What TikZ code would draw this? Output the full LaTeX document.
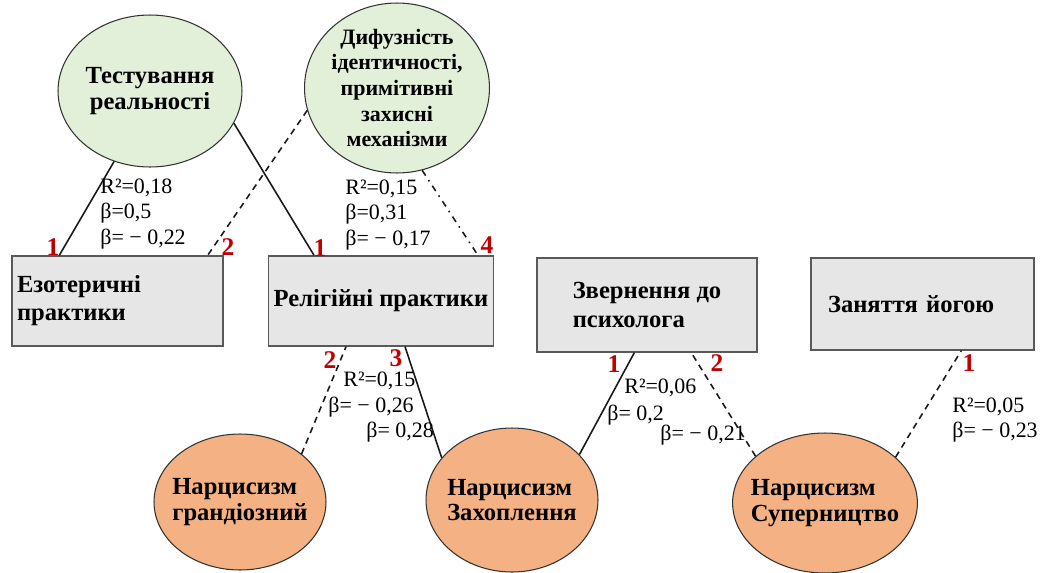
\documentclass[tikz,border=0pt]{standalone}
\usepackage{fontspec}
\setmainfont{Liberation Serif}
\usetikzlibrary{shapes.geometric}

\definecolor{ovalgreen}{RGB}{226,239,217}
\definecolor{ovalorange}{RGB}{244,177,131}
\definecolor{boxgray}{RGB}{231,230,230}
\definecolor{numred}{RGB}{192,0,0}

\begin{document}
\begin{tikzpicture}[x=0.02cm, y=-0.02cm,
    oval/.style={ellipse, draw=black!80, line width=0.6pt, inner sep=-5pt,
        font=\fontsize{14}{14.5}\selectfont\bfseries},
    factor/.style={oval, fill=ovalgreen, align=center},
    narc/.style={oval, fill=ovalorange, align=left},
    practice/.style={rectangle, draw=black!65, line width=0.8pt, fill=boxgray,
        minimum height=1.8cm, inner sep=0.1cm, align=left,
        font=\fontsize{14}{16}\selectfont\bfseries},
    num/.style={text=numred, inner sep=0pt, font=\fontsize{14.5}{14.5}\selectfont\bfseries},
    coef/.style={anchor=west, align=left, inner sep=0pt, font=\fontsize{12.5}{14.7}\selectfont},
    link/.style={line width=0.9pt, draw=black!90},
    neglink/.style={link, dash pattern=on 3.6pt off 2.8pt},
    mixlink/.style={link, dash pattern=on 3.6pt off 3pt on 0.9pt off 3pt},
  ]
  \useasboundingbox (0,0) rectangle (1042,572);

  % factors
  \node[factor, minimum width=3.68cm, minimum height=3.04cm] (tr) at (150,91) {Тестування\\реальності};
  \node[factor, minimum width=3.7cm, minimum height=3.4cm, inner sep=-8pt,
        font=\fontsize{12.5}{14.6}\selectfont\bfseries] (dif) at (397,88)
    {Дифузність\\ідентичності,\\примітивні\\захисні\\механізми};

  % practices
  \node[practice, minimum width=4.22cm, text width=4.02cm] (ez) at (117.5,301) {Езотеричні\\практики};
  \node[practice, minimum width=4.44cm] (rel) at (381,301) {Релігійні практики};
  \node[practice, minimum width=4.4cm, minimum height=1.88cm] (psy) at (647,305) {Звернення до\\психолога};
  \node[practice, minimum width=4.46cm, minimum height=1.84cm, text width=3.78cm] (yoga) at (922.5,304) {Заняття йогою};

  % narcissism
  \node[narc, minimum width=3.44cm, minimum height=2.72cm] (ng) at (240,502) {Нарцисизм\\грандіозний};
  \node[narc, minimum width=3.44cm, minimum height=2.88cm] (nz) at (512,500) {Нарцисизм\\Захоплення};
  \node[narc, minimum width=3.36cm, minimum height=2.8cm] (ns) at (825,503) {Нарцисизм\\Суперництво};

  \draw[link] (tr.243.8) -- ([xshift=0.96cm]ez.north west);
  \draw[neglink] (dif.194) -- ([xshift=-0.32cm]ez.north east);
  \draw[link] (tr.339.8) -- ([xshift=0.92cm]rel.north west);
  \draw[mixlink] (dif.287) -- ([xshift=-0.32cm]rel.north east);
  \draw[neglink] (ng.38) -- ([xshift=1.56cm]rel.south west);
  \draw[link] (nz.149) -- ([xshift=2.74cm]rel.south west);
  \draw[link] (nz.34) -- ([xshift=1.96cm]psy.south west);
  \draw[neglink] (ns.146) -- ([xshift=3.1cm]psy.south west);
  \draw[neglink] (ns.33) -- ([xshift=3.02cm]yoga.south west);

  % ranks
  \node[num] (r1) at (53,247) {1};
  \node[num] (r2) at (228,247) {2};
  \node[num] (r3) at (320,248) {1};
  \node[num] (r4) at (487,245) {4};
  \node[num] (r5) at (330,360) {2};
  \node[num] (r6) at (396,358) {3};
  \node[num] (r7) at (614,364) {1};
  \node[num] (r8) at (717,363) {2};
  \node[num] (r9) at (969,363) {1};

  % coefficients
  \node[coef] (c1) at (100,214) {R²=0,18\\β=0,5\\β= − 0,22};
  \node[coef] (c2) at (345,215) {R²=0,15\\β=0,31\\β= − 0,17};
  \node[coef] (c3) at (343,381) {R²=0,15};
  \node[coef] (c4) at (328,407) {β= − 0,26};
  \node[coef] (c5) at (366,432) {β= 0,28};
  \node[coef] (c6) at (624,388) {R²=0,06};
  \node[coef] (c7) at (607,415) {β= 0,2};
  \node[coef] (c8) at (660,435) {β= − 0,21};
  \node[coef] (c9) at (952,420) {R²=0,05\\β= − 0,23};
\end{tikzpicture}
\end{document}
